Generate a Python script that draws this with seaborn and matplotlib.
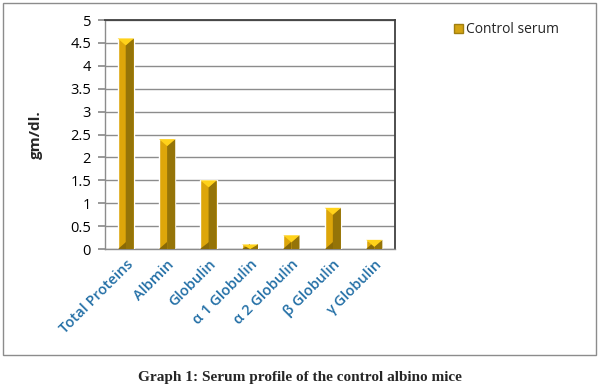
import numpy as np
import pandas as pd
import matplotlib
matplotlib.use("Agg")
import matplotlib.pyplot as plt
from matplotlib.patches import Polygon, Patch, Rectangle
import seaborn as sns

# data
categories = ["Total Proteins", "Albmin", "Globulin", "α 1 Globulin",
              "α 2 Globulin", "β Globulin", "γ Globulin"]
control_serum = [4.6, 2.4, 1.5, 0.1, 0.3, 0.9, 0.2]
y_ticks = [0, 0.5, 1, 1.5, 2, 2.5, 3, 3.5, 4, 4.5, 5]

df = pd.DataFrame({"cat": categories, "val": control_serum})

sns.set_theme(style="white")
plt.rcParams["font.family"] = ["Open Sans", "DejaVu Sans"]

fig = plt.figure(figsize=(6, 3.9), dpi=100)
ax = fig.add_axes([0.175, 0.3615, 0.4833, 0.587])

light = "#DDA60A"
dark = "#957408"
bright = "#FFD21A"

sns.barplot(data=df, x="cat", y="val", color=light, width=0.39,
            saturation=1, ax=ax, zorder=3)

# 3D bevel look, built from each bar's own geometry
px_per_unit = 229 / 5.0
for p in ax.patches:
    x0, w, h = p.get_x(), p.get_width(), p.get_height()
    xc = x0 + w / 2
    depth = min(7 / px_per_unit, h)
    # darker right face
    ax.add_patch(Polygon([[xc, 0], [x0 + w, 0], [x0 + w, h], [xc, h - depth]],
                         closed=True, color=dark, zorder=4, lw=0))
    # bright top chevron
    ax.add_patch(Polygon([[x0, h], [x0 + w, h], [xc, h - depth]],
                         closed=True, color=bright, zorder=5, lw=0))
    # dark bottom wedge
    ax.add_patch(Polygon([[x0, 0], [xc, 0], [xc, depth]],
                         closed=True, color="#8A6A06", zorder=4, lw=0))

ax.set_ylim(0, 5)
ax.set_xlim(-0.5, len(categories) - 0.5)
ax.set_yticks(y_ticks)
ax.set_yticklabels([f"{t:g}" for t in y_ticks], fontsize=10.5, color="black")
ax.yaxis.grid(True, color="#8C8C8C", lw=1, zorder=0)
ax.set_axisbelow(True)

ax.set_xticks(range(len(categories)))
ax.set_xticklabels(categories, rotation=45, ha="right", rotation_mode="anchor",
                   fontsize=10.5, color="#236FA6", fontweight="semibold")
ax.set_xticks(np.arange(-0.5, len(categories), 1), minor=True)
ax.tick_params(axis="x", which="major", length=0, pad=6)
ax.tick_params(axis="x", which="minor", length=5, color="#8C8C8C", direction="out")
ax.tick_params(axis="y", length=5, color="#8C8C8C", direction="out", left=True, pad=5)

ax.set_xlabel("")
ax.set_ylabel("gm/dl.", fontsize=11, fontweight="bold", labelpad=20)

for side in ["left", "bottom"]:
    ax.spines[side].set_color("#8C8C8C")
    ax.spines[side].set_linewidth(1)
for side in ["top", "right"]:
    ax.spines[side].set_color("#404040")
    ax.spines[side].set_linewidth(1.3)

fig.legend(handles=[Patch(facecolor="#D4A413", edgecolor="#A07F10", label="Control serum")],
           loc="upper left", bbox_to_anchor=(0.735, 0.975), frameon=False,
           fontsize=10, handlelength=0.7, handleheight=0.7, handletextpad=0.2)

# outer chart border
fig.patches.append(Rectangle((0.005, 0.0897), 0.988, 0.9026, transform=fig.transFigure,
                             fill=False, edgecolor="#8C8C8C", lw=1))

fig.text(0.5, 0.033, "Graph 1: Serum profile of the control albino mice",
         ha="center", va="center", fontsize=11, fontweight="bold",
         family=["Liberation Serif", "DejaVu Serif"])

fig.savefig("out.png", dpi=100)
